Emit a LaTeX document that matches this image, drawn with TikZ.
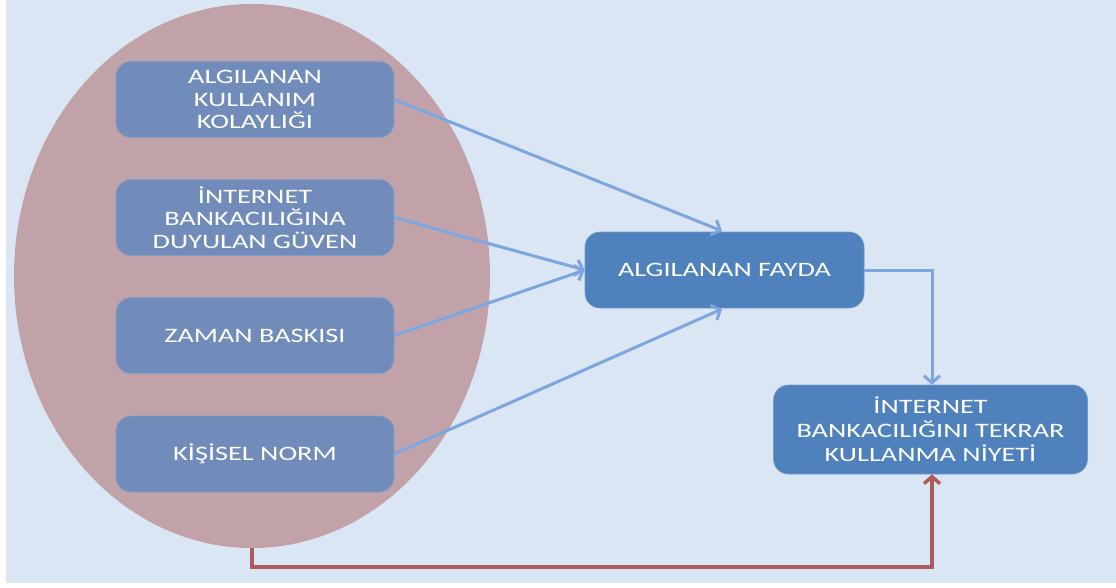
\documentclass[tikz,border=0pt]{standalone}
\usepackage{fontspec}
\newfontfamily\boxfont[FakeStretch=1.38]{Carlito}
\usetikzlibrary{arrows.meta,calc,shapes.geometric}
\definecolor{bgblue}{HTML}{DBE6F4}
\definecolor{ellfill}{HTML}{C0A2A8}
\definecolor{leftbox}{HTML}{718CBA}
\definecolor{rightbox}{HTML}{4F81BD}
\definecolor{arrblue}{HTML}{7BA6E0}
\definecolor{redline}{HTML}{AC5C5C}
\tikzset{
  lbox/.style={draw=leftbox!85!white, line width=0.6pt, fill=leftbox, rounded corners=15pt, minimum width=278pt, minimum height=76pt, inner sep=0pt, align=center, text=white, font=\boxfont\fontsize{20.5}{22.5}\selectfont},
  rbox/.style={lbox, draw=rightbox!80!white, fill=rightbox},
  barrow/.style={draw=arrblue, line width=3pt, -{Straight Barb[length=7pt,width=16pt,line width=3pt]}},
  rarrow/.style={draw=redline, line width=3.5pt, -{Straight Barb[length=7pt,width=16pt,line width=3.5pt]}}
}
\begin{document}
\begin{tikzpicture}[x=1pt,y=-1pt]
\useasboundingbox (0,0) rectangle (1116,588);
\fill[white] (0,0) rectangle (1116,588);
\fill[bgblue] (6,0) rectangle (1116,583);
\node[ellipse, draw=none, fill=ellfill, minimum width=476pt, minimum height=544pt, inner sep=0pt] (ell) at (252,276) {};
\node[lbox] (b1) at (255,99.5) {ALGILANAN\\KULLANIM\\KOLAYLIĞI};
\node[lbox] (b2) at (255,217.5) {İNTERNET\\BANKACILIĞINA\\DUYULAN GÜVEN};
\node[lbox] (b3) at (255,335.5) {ZAMAN BASKISI};
\node[lbox] (b4) at (255,454) {KİŞİSEL NORM};
\node[rbox, minimum width=279pt] (fay) at (724.5,270) {ALGILANAN FAYDA};
\node[rbox, minimum width=314pt, minimum height=89pt, font=\boxfont\fontsize{20.5}{24}\selectfont] (niy) at (930.5,429.5) {İNTERNET\\BANKACILIĞINI TEKRAR\\KULLANMA NİYETİ};
\coordinate (ftop) at (722,231);
\coordinate (fbot) at (722,309);
\coordinate (fr) at (932,270);
\coordinate (rb) at (252,567);
\coordinate (rc) at (932,567);
\draw[barrow] (b1.east) -- (ftop);
\draw[barrow] (b2.east) -- (fay.west);
\draw[barrow] (b3.east) -- (fay.west);
\draw[barrow] (b4.east) -- (fbot);
\draw[barrow] (fay.east) -- (fr) -- (fr |- niy.north);
\draw[rarrow] (ell.south) -- (rb) -- (rc) -- (rc |- niy.south);
\end{tikzpicture}
\end{document}
